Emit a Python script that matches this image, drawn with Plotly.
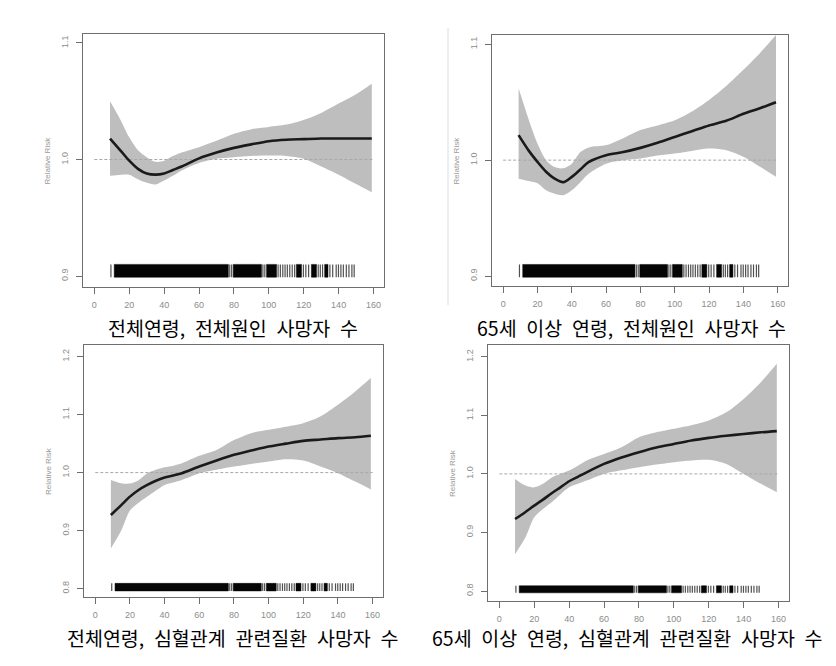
import plotly.graph_objects as go

W, H = 836, 666

# ---------------- data ----------------
x_knots = [9, 15, 20, 25, 30, 35, 40, 45, 50, 60, 70, 80, 90, 100, 110, 120, 130, 140, 150, 159]

# Panel 1: 전체연령, 전체원인
p1_rr = [1.018, 1.0077, 0.999, 0.992, 0.988, 0.987, 0.988, 0.991, 0.994, 1.001, 1.006, 1.010, 1.013, 1.0157, 1.017, 1.0175, 1.018, 1.018, 1.018, 1.018]
p1_hi = [1.050, 1.034, 1.019, 1.008, 1.002, 0.998, 0.999, 1.003, 1.006, 1.0106, 1.016, 1.022, 1.026, 1.028, 1.030, 1.034, 1.040, 1.048, 1.056, 1.065]
p1_lo = [0.986, 0.987, 0.987, 0.983, 0.980, 0.9786, 0.982, 0.986, 0.9906, 0.997, 1.0006, 1.002, 1.003, 1.0034, 1.003, 1.0006, 0.994, 0.987, 0.979, 0.972]

# Panel 2: 65세 이상, 전체원인
p2_rr = [1.0216, 1.008, 0.9985, 0.990, 0.984, 0.981, 0.9856, 0.992, 0.9985, 1.0043, 1.007, 1.0106, 1.015, 1.020, 1.025, 1.030, 1.034, 1.040, 1.045, 1.050]
p2_hi = [1.062, 1.0345, 1.0144, 1.000, 0.994, 0.993, 0.997, 1.007, 1.011, 1.013, 1.019, 1.026, 1.030, 1.0345, 1.042, 1.052, 1.064, 1.078, 1.093, 1.108]
p2_lo = [0.984, 0.982, 0.980, 0.974, 0.971, 0.9698, 0.974, 0.981, 0.9885, 0.997, 1.000, 1.0014, 1.004, 1.0058, 1.008, 1.010, 1.0086, 1.003, 0.994, 0.9856]

# Panel 3: 전체연령, 심혈관계
p3_rr = [0.927, 0.944, 0.9586, 0.970, 0.9787, 0.986, 0.9914, 0.995, 0.999, 1.0104, 1.021, 1.0306, 1.038, 1.045, 1.050, 1.0547, 1.057, 1.0594, 1.061, 1.0634]
p3_hi = [0.9874, 0.9817, 0.981, 0.987, 0.999, 1.005, 1.0093, 1.012, 1.0162, 1.029, 1.039, 1.056, 1.068, 1.0737, 1.079, 1.085, 1.097, 1.117, 1.140, 1.163]
p3_lo = [0.869, 0.900, 0.9345, 0.948, 0.9586, 0.969, 0.9787, 0.983, 0.9874, 0.999, 1.005, 1.0104, 1.015, 1.019, 1.023, 1.0207, 1.0104, 0.999, 0.9845, 0.971]

# Panel 4: 65세 이상, 심혈관계
p4_rr = [0.923, 0.935, 0.9458, 0.956, 0.967, 0.977, 0.9874, 0.995, 1.0027, 1.017, 1.028, 1.037, 1.045, 1.051, 1.057, 1.0615, 1.065, 1.068, 1.071, 1.073]
p4_hi = [0.9914, 0.980, 0.977, 0.983, 0.994, 1.000, 1.0057, 1.014, 1.023, 1.034, 1.0455, 1.0627, 1.071, 1.077, 1.083, 1.091, 1.105, 1.128, 1.157, 1.188]
p4_lo = [0.863, 0.8917, 0.9258, 0.940, 0.9515, 0.965, 0.977, 0.983, 0.9886, 1.000, 1.006, 1.0114, 1.016, 1.020, 1.023, 1.024, 1.017, 1.000, 0.983, 0.9686]

# Rug (observed exposure values): dense spans and isolated ticks
rug_dense = [(11.4, 76.8), (79.6, 95.8), (98.7, 104.4), (115.8, 118.7), (124.4, 127.3), (132.0, 133.9)]
rug_ticks = [9.5, 77.6, 78.7, 96.6, 97.7, 105.3, 106.6, 108.0, 109.3, 110.6, 112.0, 113.4, 114.8,
             119.8, 121.2, 122.8, 128.3, 129.5, 130.8, 135.0, 136.6, 138.6, 139.9, 141.3,
             142.7, 144.4, 145.9, 147.6, 148.9]

x_ticks = [0, 20, 40, 60, 80, 100, 120, 140, 160]
y_ticks_top = [0.9, 1.0, 1.1]
y_ticks_bot = [0.8, 0.9, 1.0, 1.1, 1.2]

captions = ["전체연령, 전체원인 사망자 수",
            "65세 이상 연령, 전체원인 사망자 수",
            "전체연령, 심혈관계 관련질환 사망자 수",
            "65세 이상 연령, 심혈관계 관련질환 사망자 수"]

# ---------------- layout geometry (pixels) ----------------
panels = [
    dict(rr=p1_rr, hi=p1_hi, lo=p1_lo, box=(83, 384, 34, 287), yr=(0.8906, 1.1077), yt=y_ticks_top, rug=(0.899, 0.910), cap=(233, 327)),
    dict(rr=p2_rr, hi=p2_hi, lo=p2_lo, box=(492, 788, 35, 286), yr=(0.8914, 1.108), yt=y_ticks_top, rug=(0.899, 0.910), cap=(631, 327)),
    dict(rr=p3_rr, hi=p3_hi, lo=p3_lo, box=(84, 383, 345, 597), yr=(0.7855, 1.220), yt=y_ticks_bot, rug=(0.796, 0.809), cap=(232, 637)),
    dict(rr=p4_rr, hi=p4_hi, lo=p4_lo, box=(488, 789, 345, 601), yr=(0.783, 1.220), yt=y_ticks_bot, rug=(0.797, 0.809), cap=(627, 637)),
]

fig = go.Figure()
annotations = []
axis_common = dict(showline=True, mirror=True, linecolor="#6e6e6e", linewidth=1.4,
                   ticks="outside", ticklen=6, tickcolor="#6e6e6e", tickwidth=1,
                   showgrid=False, zeroline=False,
                   tickfont=dict(family="Liberation Sans", size=9, color="#8c8c8c"))

for i, p in enumerate(panels):
    n = "" if i == 0 else str(i + 1)
    xa, ya = "x" + n, "y" + n
    x0, x1, y0, y1 = p["box"]
    fig.layout["xaxis" + n] = dict(domain=[x0 / W, x1 / W], range=[-6.5, 166], anchor=ya,
                                   tickvals=x_ticks, ticklabelstandoff=3, **axis_common)
    fig.layout["yaxis" + n] = dict(domain=[1 - y1 / H, 1 - y0 / H], range=list(p["yr"]), anchor=xa,
                                   tickvals=p["yt"], tickformat=".1f", tickangle=-90,
                                   ticklabelstandoff=4, **axis_common)
    # confidence band
    fig.add_trace(go.Scatter(x=x_knots, y=p["lo"], xaxis=xa, yaxis=ya, mode="lines",
                             line=dict(color="#bebebe", width=0, shape="spline", smoothing=0.8),
                             hoverinfo="skip", showlegend=False))
    fig.add_trace(go.Scatter(x=x_knots, y=p["hi"], xaxis=xa, yaxis=ya, mode="lines", fill="tonexty",
                             fillcolor="#bebebe",
                             line=dict(color="#bebebe", width=0, shape="spline", smoothing=0.8),
                             hoverinfo="skip", showlegend=False))
    # reference line
    fig.add_trace(go.Scatter(x=[0, 160], y=[1.0, 1.0], xaxis=xa, yaxis=ya, mode="lines",
                             line=dict(color="#a8a8a8", width=1, dash="3px,2px"),
                             hoverinfo="skip", showlegend=False))
    # fitted curve
    fig.add_trace(go.Scatter(x=x_knots, y=p["rr"], xaxis=xa, yaxis=ya, mode="lines",
                             line=dict(color="#1a1a1a", width=2.6, shape="spline", smoothing=0.8),
                             showlegend=False))
    # rug
    r0, r1 = p["rug"]
    rx, ry = [], []
    for a, b in rug_dense:
        rx += [a, b, b, a, a, None]
        ry += [r0, r0, r1, r1, r0, None]
    fig.add_trace(go.Scatter(x=rx, y=ry, xaxis=xa, yaxis=ya, mode="lines", fill="toself",
                             fillcolor="#050505", line=dict(color="#050505", width=0.5),
                             hoverinfo="skip", showlegend=False))
    tx, ty = [], []
    for t in rug_ticks:
        tx += [t, t, None]
        ty += [r0, r1, None]
    fig.add_trace(go.Scatter(x=tx, y=ty, xaxis=xa, yaxis=ya, mode="lines",
                             line=dict(color="#505050", width=1.2),
                             hoverinfo="skip", showlegend=False))
    # y-axis title
    annotations.append(dict(text="Relative Risk", x=(x0 - 36) / W, y=1 - ((y0 + y1) / 2) / H,
                            xref="paper", yref="paper", showarrow=False, textangle=-90,
                            xanchor="center", yanchor="middle",
                            font=dict(family="Liberation Sans", size=8, color="#9a9a9a")))
    # caption
    cx, cy = p["cap"]
    annotations.append(dict(text=captions[i].replace(" ", "\u2002"), x=cx / W, y=1 - cy / H,
                            xref="paper", yref="paper", showarrow=False,
                            xanchor="center", yanchor="middle",
                            font=dict(family="Noto Sans CJK KR", size=19.5, color="#000000")))

fig.update_layout(width=W, height=H, margin=dict(l=0, r=0, t=0, b=0),
                  paper_bgcolor="white", plot_bgcolor="white",
                  annotations=annotations, showlegend=False,
                  shapes=[dict(type="line", xref="paper", yref="paper",
                               x0=448 / W, x1=448 / W, y0=1 - 305 / H, y1=1 - 28 / H,
                               line=dict(color="#d3e0ec", width=1))])

fig.write_html("out.html")
